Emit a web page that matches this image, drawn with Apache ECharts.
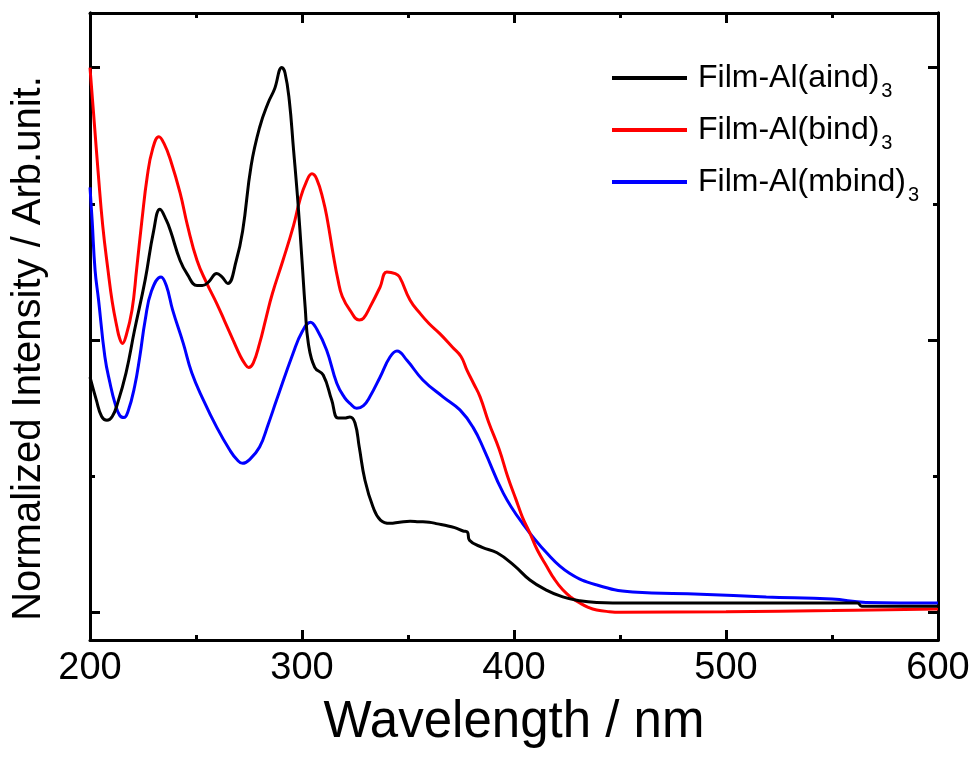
<!DOCTYPE html>
<html>
<head>
<meta charset="utf-8">
<script src="https://cdn.jsdelivr.net/npm/echarts@6/dist/echarts.min.js"></script>
<style>
html,body{margin:0;padding:0;background:#fff;}
#chart{width:976px;height:769px;}
</style>
</head>
<body>
<div id="chart"></div>
<script>
// ---- Data ----
const seriesNames = ['Film-Al(aind)3', 'Film-Al(bind)3', 'Film-Al(mbind)3'];
const legendLabels = ['Film-Al(aind)', 'Film-Al(bind)', 'Film-Al(mbind)'];
const legendSub = ['3', '3', '3'];

const wlAind = [200,203,205.5,208,210.5,213,217,221,226,230,233,236,238,242.5,246,250.5,253,256,259.8,262,265,269,272,276,280,284,287,290.5,292,294,296,298,300,301.5,303,306,310,314,317,320,322.6,325,327,329.7,333.5,337,341.5,346,351,355,360,364,368,372,376,378,379,385,392,400,407.5,415,423,431,439,455,480,500,520,540,562,564,580,600];
const yAind  = [0.432,0.39,0.36,0.353,0.36,0.384,0.44,0.518,0.61,0.70,0.74,0.72,0.70,0.646,0.62,0.60,0.60,0.607,0.622,0.617,0.604,0.646,0.70,0.82,0.89,0.935,0.96,1.0,0.99,0.94,0.85,0.757,0.646,0.56,0.494,0.45,0.436,0.39,0.357,0.357,0.359,0.348,0.304,0.243,0.194,0.17,0.164,0.166,0.168,0.167,0.166,0.163,0.16,0.156,0.15,0.148,0.133,0.12,0.11,0.087,0.06,0.042,0.029,0.022,0.019,0.018,0.018,0.018,0.018,0.018,0.018,0.012,0.012,0.012];

const wlBind = [200,202,203.8,206,208.5,210.5,212.7,214,215.3,216.8,219.8,222,224.5,227,229.5,232.5,235,238,242.5,246,250.5,255,259.8,263.5,267.5,271,273,274.8,277,280,283,286,291,296,299,302,304.7,307,310,312,314.6,317,319,322.6,327,329,332,336.8,340,344,346,351,355.7,360,365,371,375,377.8,381,384,388,393,397,401,404,407.5,411,415.6,419,423,427,431,435,439,445,450,500,550,600];
const yBind  = [1.0,0.90,0.81,0.71,0.628,0.57,0.524,0.503,0.494,0.505,0.555,0.63,0.72,0.80,0.85,0.873,0.86,0.83,0.77,0.71,0.646,0.605,0.567,0.535,0.50,0.47,0.457,0.45,0.458,0.494,0.54,0.585,0.646,0.71,0.757,0.79,0.805,0.795,0.757,0.72,0.66,0.61,0.58,0.555,0.537,0.54,0.56,0.597,0.625,0.622,0.616,0.573,0.549,0.53,0.512,0.487,0.47,0.445,0.42,0.396,0.35,0.30,0.25,0.207,0.175,0.146,0.115,0.084,0.062,0.042,0.028,0.018,0.01,0.005,0.002,0.001,0.002,0.004,0.007];

const wlMbind = [200,201,202.4,204,207,209.5,211.8,214,216,218,221,223.5,226,229,233.5,236,239,244,248,253.5,259.8,266,269.5,272,275,280,284,288,295.8,300,304,307,311.6,316.4,320,322.6,325.8,329,332,336.8,341.5,344.8,349.5,357,366.5,374.5,380.7,386,395,404,415.6,426,439,456,488,519,550,566,600];
const yMbind  = [0.78,0.72,0.628,0.575,0.47,0.42,0.384,0.362,0.358,0.37,0.414,0.47,0.536,0.59,0.616,0.60,0.555,0.494,0.44,0.39,0.34,0.298,0.28,0.274,0.28,0.304,0.345,0.39,0.476,0.515,0.533,0.52,0.482,0.421,0.395,0.384,0.375,0.38,0.396,0.432,0.469,0.48,0.463,0.427,0.396,0.372,0.34,0.298,0.219,0.164,0.109,0.073,0.051,0.038,0.034,0.029,0.025,0.019,0.018];

const seriesColors = ['#000000', '#ff0000', '#0000ff'];
const xTickValues = [200, 300, 400, 500, 600];
const yMajorTicks = [0, 0.5, 1];
const yMinorTicks = [0.25, 0.75];

// ---- Build ----
function zip(xs, ys){ return xs.map((x, i) => [x, ys[i]]); }
const allData = [zip(wlAind, yAind), zip(wlBind, yBind), zip(wlMbind, yMbind)];

const FONT = 'Liberation Sans, Arial, sans-serif';
const AX_W = 3;
const yMin = -0.05, yMax = 1.1;

function yAx(pos, ticks, len, name){
  return {
    type: 'value', position: pos, min: yMin, max: yMax,
    axisLine: {show: true, onZero: false, lineStyle: {color: '#000', width: AX_W}},
    axisTick: {show: true, inside: true, length: len, customValues: ticks, lineStyle: {color: '#000', width: AX_W}},
    axisLabel: {show: false},
    splitLine: {show: false},
    name: name || '', nameLocation: 'middle', nameGap: 41,
    nameTextStyle: {fontFamily: FONT, fontSize: 40, color: '#000', padding: [0, 44, 0, 0]}
  };
}
function xAx(pos, showLabel, name){
  return {
    type: 'value', position: pos, min: 200, max: 600, interval: 100,
    axisLine: {show: true, onZero: false, lineStyle: {color: '#000', width: AX_W}},
    axisTick: {show: true, inside: true, length: 10, lineStyle: {color: '#000', width: AX_W}},
    minorTick: {show: true, splitNumber: 2, length: 5, lineStyle: {color: '#000', width: AX_W}},
    axisLabel: {show: showLabel, margin: 10, fontFamily: FONT, fontSize: 38, color: '#000',
      customValues: xTickValues},
    splitLine: {show: false}, minorSplitLine: {show: false},
    name: name || '', nameLocation: 'middle', nameGap: 57,
    nameTextStyle: {fontFamily: FONT, fontSize: 51, color: '#000'}
  };
}

const chart = echarts.init(document.getElementById('chart'), null, {renderer: 'canvas'});
const lineSeries = seriesNames.map((nm, i) => ({
  name: nm, type: 'line', xAxisIndex: 0, yAxisIndex: 0,
  data: allData[i], showSymbol: false, symbol: 'none', smooth: 0.45,
  lineStyle: {color: seriesColors[i], width: 3},
  itemStyle: {color: seriesColors[i]},
  z: 3 - i
}));
// empty helper series so the top/right frame axes are drawn
lineSeries.push({name: 'frame', type: 'line', xAxisIndex: 1, yAxisIndex: 2, data: [], silent: true});

const option = {
  backgroundColor: '#fff',
  animation: false,
  grid: {left: 90, right: 38, top: 13, bottom: 129, containLabel: false},
  legend: {
    orient: 'vertical', left: 607, top: 57,
    icon: 'rect', itemWidth: 75, itemHeight: 4, itemGap: 13,
    data: seriesNames,
    formatter: function(name){
      const i = seriesNames.indexOf(name);
      return '{n|' + legendLabels[i] + '}{s|' + legendSub[i] + '}';
    },
    textStyle: {
      fontFamily: FONT, color: '#000', padding: [0, 0, 0, 6],
      rich: {
        n: {fontFamily: FONT, fontSize: 32, color: '#000'},
        s: {fontFamily: FONT, fontSize: 20, color: '#000', padding: [26, 0, 0, 2]}
      }
    }
  },
  xAxis: [xAx('bottom', true, 'Wavelength / nm'), xAx('top', false)],
  yAxis: [
    yAx('left', yMajorTicks, 10, 'Normalized Intensity / Arb.unit.'),
    yAx('left', yMinorTicks, 5),
    yAx('right', yMajorTicks, 10),
    yAx('right', yMinorTicks, 5)
  ],
  series: lineSeries
};
chart.setOption(option);
</script>
</body>
</html>
